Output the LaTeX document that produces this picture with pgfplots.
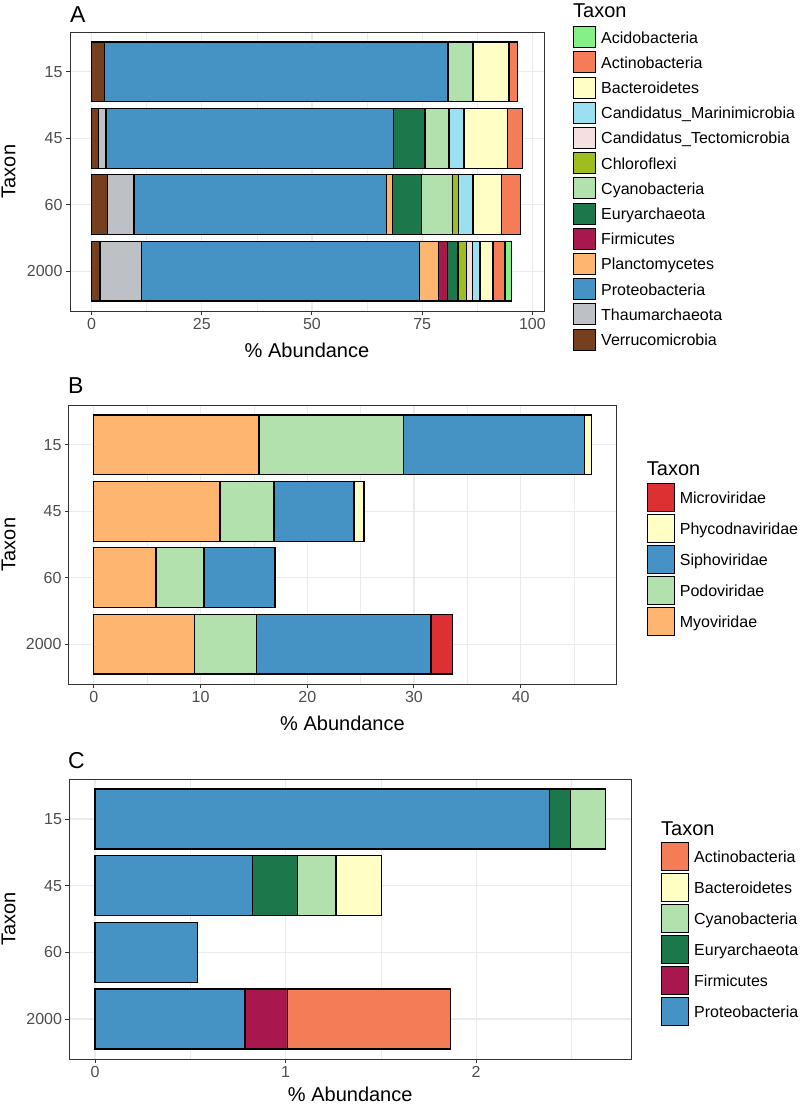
\documentclass[border=0pt]{standalone}
\usepackage{fontspec}
\setmainfont{Liberation Sans}
\usepackage{pgfplots}
\pgfplotsset{compat=1.18}

\definecolor{cAcido}{HTML}{85EF88}
\definecolor{cActino}{HTML}{F47D57}
\definecolor{cBacter}{HTML}{FFFEC4}
\definecolor{cMarini}{HTML}{9BE0F0}
\definecolor{cTecto}{HTML}{F5DFE1}
\definecolor{cChloro}{HTML}{9DBE1E}
\definecolor{cCyano}{HTML}{B3E1AD}
\definecolor{cEury}{HTML}{1C774A}
\definecolor{cFirmi}{HTML}{A8184F}
\definecolor{cPlanc}{HTML}{FDB56F}
\definecolor{cProteo}{HTML}{4593C4}
\definecolor{cThaum}{HTML}{BDC0C5}
\definecolor{cVerru}{HTML}{763F1E}
\definecolor{cMicro}{HTML}{DC3032}
\definecolor{gridgray}{HTML}{EBEBEB}
\definecolor{frame}{HTML}{333333}
\definecolor{ticktext}{HTML}{4D4D4D}

\pgfplotsset{
  ggbar/.style={
    scale only axis,
    xbar stacked,
    bar width=0.9,
    ymin=0.4, ymax=4.6,
    ytick={1,2,3,4}, yticklabels={2000,60,45,15},
    tick align=outside,
    major tick length=4pt,
    minor tick length=0pt,
    xtick pos=bottom, ytick pos=left,
    grid=both,
    major grid style={color=gridgray, line width=1.1pt},
    minor grid style={color=gridgray, line width=0.55pt},
    axis line style={color=frame, line width=1pt},
    tick style={color=frame, line width=1pt},
    /pgf/number format/assume math mode=true,
    ticklabel style={font=\fontsize{16}{18}\selectfont, text=ticktext},
    ylabel={Taxon}, xlabel={\% Abundance},
    every axis x label/.style={at={(axis description cs:0.5,-0.165)}, anchor=base, font=\fontsize{20}{24}\selectfont},
    legend style={draw=none, fill=none, inner sep=0pt, anchor=north west,
      font=\fontsize{16}{18}\selectfont, column sep=5pt,
      nodes={inner sep=0pt, anchor=base west}},
    legend cell align=left,
    reverse legend,
    every axis plot/.append style={draw=black, line width=1.2pt},
  },
}

\begin{document}
\begin{tikzpicture}
\useasboundingbox (0,0) rectangle (800pt,-1106pt);

% ---------- A ----------
\begin{axis}[ggbar,
  at={(70pt,-32pt)}, anchor=north west,
  width=474pt, height=279pt,
  xmin=-4.887, xmax=102.63,
  xtick={0,25,50,75,100}, minor xtick={12.5,37.5,62.5,87.5},
  every axis y label/.style={at={(axis description cs:-0.1297,0.5)}, rotate=90, anchor=center, font=\fontsize{20}{24}\selectfont},
  legend style={at={(axis description cs:1.0612,1.0215)}, row sep=3.2pt},
  legend image code/.code={\draw[#1, line width=1pt] (0pt,-4.7pt) rectangle (22pt,16.3pt);},
]
% rows: 4 = 15, 3 = 45, 2 = 60, 1 = 2000
\addplot[fill=cVerru]  coordinates {(2.89,4) (1.53,3) (3.58,2) (1.91,1)}; \addlegendentry{Verrucomicrobia}
\addplot[fill=cThaum]  coordinates {(0,4) (1.74,3) (6.06,2) (9.47,1)}; \addlegendentry{Thaumarchaeota}
\addplot[fill=cProteo] coordinates {(77.96,4) (65.31,3) (57.19,2) (63.03,1)}; \addlegendentry{Proteobacteria}
\addplot[fill=cPlanc]  coordinates {(0,4) (0,3) (1.52,2) (4.24,1)}; \addlegendentry{Planctomycetes}
\addplot[fill=cFirmi]  coordinates {(0,4) (0,3) (0,2) (2.05,1)}; \addlegendentry{Firmicutes}
\addplot[fill=cEury]   coordinates {(0,4) (7.04,3) (6.51,2) (2.42,1)}; \addlegendentry{Euryarchaeota}
\addplot[fill=cCyano]  coordinates {(5.68,4) (5.46,3) (6.97,2) (0,1)}; \addlegendentry{Cyanobacteria}
\addplot[fill=cChloro] coordinates {(0,4) (0,3) (1.37,2) (1.90,1)}; \addlegendentry{Chloroflexi}
\addplot[fill=cTecto]  coordinates {(0,4) (0,3) (0,2) (1.36,1)}; \addlegendentry{Candidatus\_Tectomicrobia}
\addplot[fill=cMarini] coordinates {(0,4) (3.40,3) (3.33,2) (1.74,1)}; \addlegendentry{Candidatus\_Marinimicrobia}
\addplot[fill=cBacter] coordinates {(8.18,4) (9.85,3) (6.44,2) (2.96,1)}; \addlegendentry{Bacteroidetes}
\addplot[fill=cActino] coordinates {(1.90,4) (3.41,3) (4.24,2) (2.72,1)}; \addlegendentry{Actinobacteria}
\addplot[fill=cAcido]  coordinates {(0,4) (0,3) (0,2) (1.52,1)}; \addlegendentry{Acidobacteria}
\end{axis}

% ---------- B ----------
\begin{axis}[ggbar,
  at={(69pt,-405pt)}, anchor=north west,
  width=547pt, height=279pt,
  xmin=-2.33, xmax=48.93,
  xtick={0,10,20,30,40}, minor xtick={5,15,25,35,45},
  every axis y label/.style={at={(axis description cs:-0.1106,0.5)}, rotate=90, anchor=center, font=\fontsize{20}{24}\selectfont},
  legend style={at={(axis description cs:1.056,0.7215)}, row sep=2pt},
  legend image code/.code={\draw[#1, line width=1pt] (0pt,-8.2pt) rectangle (27pt,19.8pt);},
]
\addplot[fill=cPlanc]  coordinates {(15.47,4) (11.82,3) (5.82,2) (9.45,1)}; \addlegendentry{Myoviridae}
\addplot[fill=cCyano]  coordinates {(13.53,4) (5.06,3) (4.50,2) (5.79,1)}; \addlegendentry{Podoviridae}
\addplot[fill=cProteo] coordinates {(16.96,4) (7.49,3) (6.65,2) (16.35,1)}; \addlegendentry{Siphoviridae}
\addplot[fill=cBacter] coordinates {(0.69,4) (0.94,3) (0,2) (0,1)}; \addlegendentry{Phycodnaviridae}
\addplot[fill=cMicro]  coordinates {(0,4) (0,3) (0,2) (2.04,1)}; \addlegendentry{Microviridae}
\end{axis}

% ---------- C ----------
\begin{axis}[ggbar,
  at={(69.5pt,-779pt)}, anchor=north west,
  width=561.5pt, height=280pt,
  xmin=-0.134, xmax=2.813,
  xtick={0,1,2}, minor xtick={0.5,1.5,2.5},
  every axis x label/.style={at={(axis description cs:0.5,-0.150)}, anchor=base, font=\fontsize{20}{24}\selectfont},
  every axis y label/.style={at={(axis description cs:-0.1086,0.5)}, rotate=90, anchor=center, font=\fontsize{20}{24}\selectfont},
  legend style={at={(axis description cs:1.0534,0.776)}, row sep=2pt},
  legend image code/.code={\draw[#1, line width=1pt] (0pt,-8.2pt) rectangle (27pt,19.8pt);},
]
\addplot[fill=cProteo] coordinates {(2.387,4) (0.826,3) (0.539,2) (0.787,1)}; \addlegendentry{Proteobacteria}
\addplot[fill=cFirmi]  coordinates {(0,4) (0,3) (0,2) (0.224,1)}; \addlegendentry{Firmicutes}
\addplot[fill=cEury]   coordinates {(0.110,4) (0.238,3) (0,2) (0,1)}; \addlegendentry{Euryarchaeota}
\addplot[fill=cCyano]  coordinates {(0.182,4) (0.201,3) (0,2) (0,1)}; \addlegendentry{Cyanobacteria}
\addplot[fill=cBacter] coordinates {(0,4) (0.240,3) (0,2) (0,1)}; \addlegendentry{Bacteroidetes}
\addplot[fill=cActino] coordinates {(0,4) (0,3) (0,2) (0.853,1)}; \addlegendentry{Actinobacteria}
\end{axis}

% panel tags and legend titles
\node[anchor=base west, font=\fontsize{23}{27}\selectfont, inner sep=0pt] at (70pt,-22pt) {A};
\node[anchor=base west, font=\fontsize{23}{27}\selectfont, inner sep=0pt] at (68pt,-393pt) {B};
\node[anchor=base west, font=\fontsize{23}{27}\selectfont, inner sep=0pt] at (68pt,-768pt) {C};
\node[anchor=base west, font=\fontsize{20}{24}\selectfont, inner sep=0pt] at (573pt,-17pt) {Taxon};
\node[anchor=base west, font=\fontsize{20}{24}\selectfont, inner sep=0pt] at (646.7pt,-475pt) {Taxon};
\node[anchor=base west, font=\fontsize{20}{24}\selectfont, inner sep=0pt] at (661pt,-835pt) {Taxon};
\end{tikzpicture}
\end{document}
